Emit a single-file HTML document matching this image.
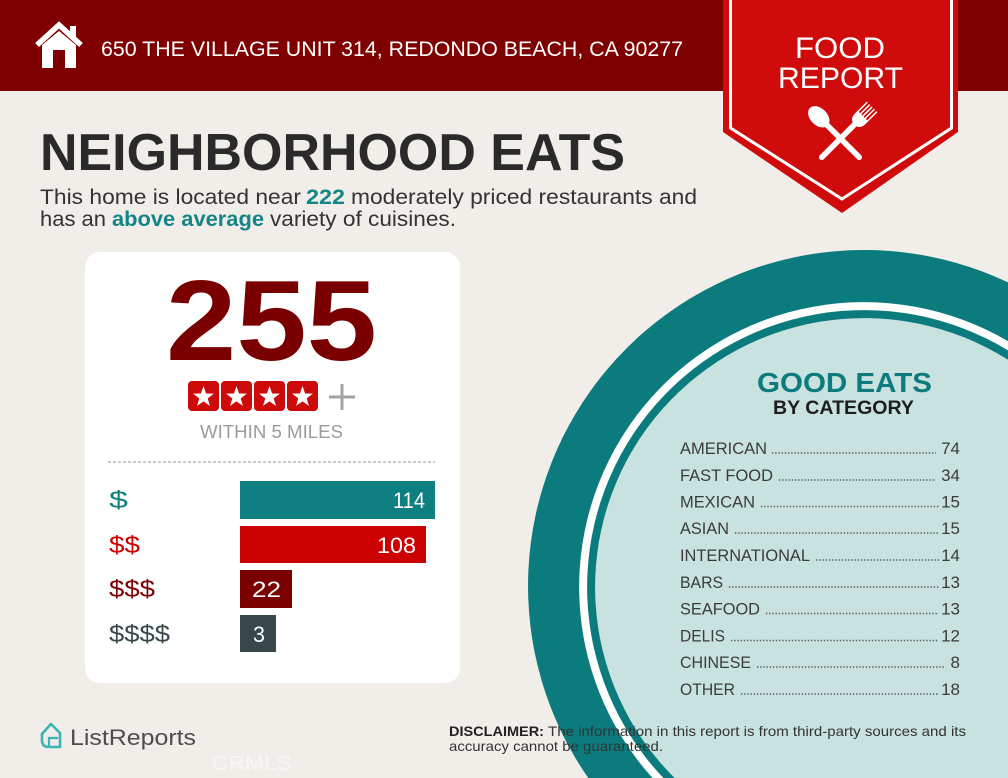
<!DOCTYPE html>
<html><head><meta charset="utf-8"><style>
html,body{margin:0;padding:0;background:#f1ede9;width:1008px;height:778px;overflow:hidden;}
svg{display:block;}
text{font-family:"Liberation Sans",sans-serif;}
</style></head><body>
<svg width="1008" height="778" viewBox="0 0 1008 778" xmlns="http://www.w3.org/2000/svg">
<rect x="0" y="0" width="1008" height="778" fill="#f1ede9"/>
<!-- header -->
<rect x="0" y="0" width="1008" height="91" fill="#7e0000"/>
<!-- house icon -->
<polyline points="37,45 59,25 81,45" fill="none" stroke="#fff" stroke-width="5.5" stroke-linejoin="miter"/>
<rect x="70" y="26" width="6" height="12" fill="#fff"/>
<path d="M42,45 L59,31 L76,45 L76,68 L65,68 L65,50 L53,50 L53,68 L42,68 Z" fill="#fff"/>
<text x="101" y="56" font-size="21" fill="#fff" textLength="582" lengthAdjust="spacingAndGlyphs">650 THE VILLAGE UNIT 314, REDONDO BEACH, CA 90277</text>
<!-- badge -->
<path d="M723,0 L958,0 L958,132 L842,213 L723,132 Z" fill="#d00b0b"/>
<polyline points="730.5,0 730.5,128 842,199 951.5,128 951.5,0" fill="none" stroke="#fff" stroke-width="3"/>
<text x="795" y="58" font-size="30" fill="#fff" textLength="90" lengthAdjust="spacingAndGlyphs">FOOD</text>
<text x="778" y="88" font-size="30" fill="#fff" textLength="125" lengthAdjust="spacingAndGlyphs">REPORT</text>
<g transform="translate(840,138) rotate(-45)" fill="#fff">
  <ellipse cx="0" cy="-30" rx="8.5" ry="12.5"/>
  <rect x="-2.8" y="-22" width="5.6" height="52" rx="2.8"/>
</g>
<g transform="translate(841,138) rotate(45)" fill="#fff">
  <rect x="-2.8" y="-22" width="5.6" height="52" rx="2.8"/>
  <path d="M-7.5,-44 L-7.5,-28 Q-7.5,-19 0,-19 Q7.5,-19 7.5,-28 L7.5,-44 L6,-44 L6,-31 L4,-31 L4,-44 L2.5,-44 L2.5,-31 L0.8,-31 L0.8,-44 L-0.8,-44 L-0.8,-31 L-2.5,-31 L-2.5,-44 L-4,-44 L-4,-31 L-6,-31 L-6,-44 Z"/>
</g>
<!-- title -->
<text x="40" y="170" font-size="52" font-weight="bold" fill="#2a2a2a" textLength="585" lengthAdjust="spacingAndGlyphs">NEIGHBORHOOD EATS</text>
<text x="40" y="204" font-size="21" fill="#333" textLength="261" lengthAdjust="spacingAndGlyphs">This home is located near</text>
<text x="306" y="204" font-size="21" font-weight="bold" fill="#138587" textLength="39" lengthAdjust="spacingAndGlyphs">222</text>
<text x="351" y="204" font-size="21" fill="#333" textLength="346" lengthAdjust="spacingAndGlyphs">moderately priced restaurants and</text>
<text x="40" y="226" font-size="21" fill="#333" textLength="66" lengthAdjust="spacingAndGlyphs">has an</text>
<text x="112" y="226" font-size="21" font-weight="bold" fill="#138587" textLength="152" lengthAdjust="spacingAndGlyphs">above average</text>
<text x="270" y="226" font-size="21" fill="#333" textLength="186" lengthAdjust="spacingAndGlyphs">variety of cuisines.</text>
<!-- card -->
<rect x="85" y="252" width="375" height="431" rx="15" fill="#ffffff"/>
<text x="166" y="360" font-size="114" font-weight="bold" fill="#7a0000" textLength="211" lengthAdjust="spacingAndGlyphs">255</text>
<g fill="#cc0a0a">
  <rect x="188" y="381" width="31" height="30" rx="4"/>
  <rect x="221" y="381" width="31" height="30" rx="4"/>
  <rect x="254" y="381" width="31" height="30" rx="4"/>
  <rect x="287" y="381" width="31" height="30" rx="4"/>
</g>
<g fill="#fff">
  <path transform="translate(203.5,397)" d="M0,-11 L2.59,-3.56 L10.46,-3.4 L4.18,1.36 L6.47,8.9 L0,4.4 L-6.47,8.9 L-4.18,1.36 L-10.46,-3.4 L-2.59,-3.56 Z"/>
  <path transform="translate(236.5,397)" d="M0,-11 L2.59,-3.56 L10.46,-3.4 L4.18,1.36 L6.47,8.9 L0,4.4 L-6.47,8.9 L-4.18,1.36 L-10.46,-3.4 L-2.59,-3.56 Z"/>
  <path transform="translate(269.5,397)" d="M0,-11 L2.59,-3.56 L10.46,-3.4 L4.18,1.36 L6.47,8.9 L0,4.4 L-6.47,8.9 L-4.18,1.36 L-10.46,-3.4 L-2.59,-3.56 Z"/>
  <path transform="translate(302.5,397)" d="M0,-11 L2.59,-3.56 L10.46,-3.4 L4.18,1.36 L6.47,8.9 L0,4.4 L-6.47,8.9 L-4.18,1.36 L-10.46,-3.4 L-2.59,-3.56 Z"/>
</g>
<line x1="329" y1="397" x2="355" y2="397" stroke="#a3a3a3" stroke-width="3"/>
<line x1="342" y1="384" x2="342" y2="410" stroke="#a3a3a3" stroke-width="3"/>
<text x="200" y="438" font-size="18" fill="#9b9b9b" textLength="143" lengthAdjust="spacingAndGlyphs">WITHIN 5 MILES</text>
<line x1="108" y1="462" x2="435" y2="462" stroke="#aaaaaa" stroke-width="1.2" stroke-dasharray="3 2"/>
<!-- bars -->
<rect x="240" y="481" width="195" height="38" fill="#0e7f80"/>
<rect x="240" y="526" width="186" height="37" fill="#cc0000"/>
<rect x="240" y="570" width="52" height="38" fill="#7b0000"/>
<rect x="240" y="615" width="36" height="37" fill="#37474a"/>
<text x="393" y="508" font-size="22" fill="#fff" textLength="32" lengthAdjust="spacingAndGlyphs">114</text>
<text x="377" y="553" font-size="22" fill="#fff" textLength="39" lengthAdjust="spacingAndGlyphs">108</text>
<text x="252" y="597" font-size="22" fill="#fff" textLength="29" lengthAdjust="spacingAndGlyphs">22</text>
<text x="253" y="642" font-size="22" fill="#fff" textLength="12" lengthAdjust="spacingAndGlyphs">3</text>
<text x="109" y="508" font-size="24" fill="#0e7f80" textLength="19" lengthAdjust="spacingAndGlyphs">$</text>
<text x="109" y="553" font-size="24" fill="#cc0000" textLength="31" lengthAdjust="spacingAndGlyphs">$$</text>
<text x="109" y="597" font-size="24" fill="#7b0000" textLength="46" lengthAdjust="spacingAndGlyphs">$$$</text>
<text x="109" y="642" font-size="24" fill="#37474a" textLength="61" lengthAdjust="spacingAndGlyphs">$$$$</text>
<!-- circle (clipped to frame via arc paths) -->
<path d="M588.3,778 A336,336 0 0 1 1008,282.4 L1008,778 Z" fill="#0b7b7d"/>
<path d="M652.5,778 A285,285 0 0 1 1008,341.1 L1008,778 Z" fill="#ffffff"/>
<path d="M663.4,778 A277,277 0 0 1 1008,350.4 L1008,778 Z" fill="#0b7b7d"/>
<path d="M674.6,778 A269,269 0 0 1 1008,359.8 L1008,778 Z" fill="#c8e2df"/>
<text x="757" y="392" font-size="28" font-weight="bold" fill="#0d7b7d" textLength="175" lengthAdjust="spacingAndGlyphs">GOOD EATS</text>
<text x="773" y="414" font-size="19.5" font-weight="bold" fill="#1e1e1e" textLength="141" lengthAdjust="spacingAndGlyphs">BY CATEGORY</text>
<g font-size="17" fill="#3b3b3b">
  <text x="680" y="454" textLength="87" lengthAdjust="spacingAndGlyphs">AMERICAN</text>
  <text x="680" y="481" textLength="93" lengthAdjust="spacingAndGlyphs">FAST FOOD</text>
  <text x="680" y="507.5" textLength="75" lengthAdjust="spacingAndGlyphs">MEXICAN</text>
  <text x="680" y="534" textLength="49" lengthAdjust="spacingAndGlyphs">ASIAN</text>
  <text x="680" y="561" textLength="130" lengthAdjust="spacingAndGlyphs">INTERNATIONAL</text>
  <text x="680" y="588" textLength="43" lengthAdjust="spacingAndGlyphs">BARS</text>
  <text x="680" y="614.5" textLength="80" lengthAdjust="spacingAndGlyphs">SEAFOOD</text>
  <text x="680" y="641.5" textLength="45" lengthAdjust="spacingAndGlyphs">DELIS</text>
  <text x="680" y="668" textLength="71" lengthAdjust="spacingAndGlyphs">CHINESE</text>
  <text x="680" y="695" textLength="55" lengthAdjust="spacingAndGlyphs">OTHER</text>
</g>
<g font-size="17" fill="#3b3b3b" text-anchor="end">
  <text x="960" y="454">74</text>
  <text x="960" y="481">34</text>
  <text x="960" y="507.5">15</text>
  <text x="960" y="534">15</text>
  <text x="960" y="561">14</text>
  <text x="960" y="588">13</text>
  <text x="960" y="614.5">13</text>
  <text x="960" y="641.5">12</text>
  <text x="960" y="668">8</text>
  <text x="960" y="695">18</text>
</g>
<g stroke="#555" stroke-width="1.4" stroke-dasharray="1.3 1.9">
  <line x1="772" y1="453" x2="936" y2="453"/>
  <line x1="779" y1="480" x2="936" y2="480"/>
  <line x1="761" y1="506.5" x2="939" y2="506.5"/>
  <line x1="735" y1="533" x2="939" y2="533"/>
  <line x1="816" y1="560" x2="939" y2="560"/>
  <line x1="729" y1="587" x2="939" y2="587"/>
  <line x1="766" y1="613.5" x2="939" y2="613.5"/>
  <line x1="731" y1="640.5" x2="939" y2="640.5"/>
  <line x1="757" y1="667" x2="944" y2="667"/>
  <line x1="741" y1="694" x2="939" y2="694"/>
</g>
<!-- footer -->
<path d="M42,734 L51,724 L60,733 L60,747 L49,747 Q42,747 42,740 Z" fill="none" stroke="#3bb4b4" stroke-width="2.6" stroke-linejoin="round"/>
<path d="M49,747 L49,738 L58,738" fill="none" stroke="#3bb4b4" stroke-width="2.2"/>
<text x="70" y="745" font-size="22" fill="#4d4d4d" textLength="126" lengthAdjust="spacingAndGlyphs">ListReports</text>
<text x="212" y="770" font-size="20" fill="#ffffff" fill-opacity="0.55" textLength="80" lengthAdjust="spacingAndGlyphs">CRMLS</text>
<text x="449" y="736" font-size="14" font-weight="bold" fill="#222" textLength="95" lengthAdjust="spacingAndGlyphs">DISCLAIMER:</text>
<text x="548" y="736" font-size="14" fill="#333" textLength="418" lengthAdjust="spacingAndGlyphs">The information in this report is from third-party sources and its</text>
<text x="449" y="751" font-size="14" fill="#333" textLength="214" lengthAdjust="spacingAndGlyphs">accuracy cannot be guaranteed.</text>
</svg>
</body></html>
